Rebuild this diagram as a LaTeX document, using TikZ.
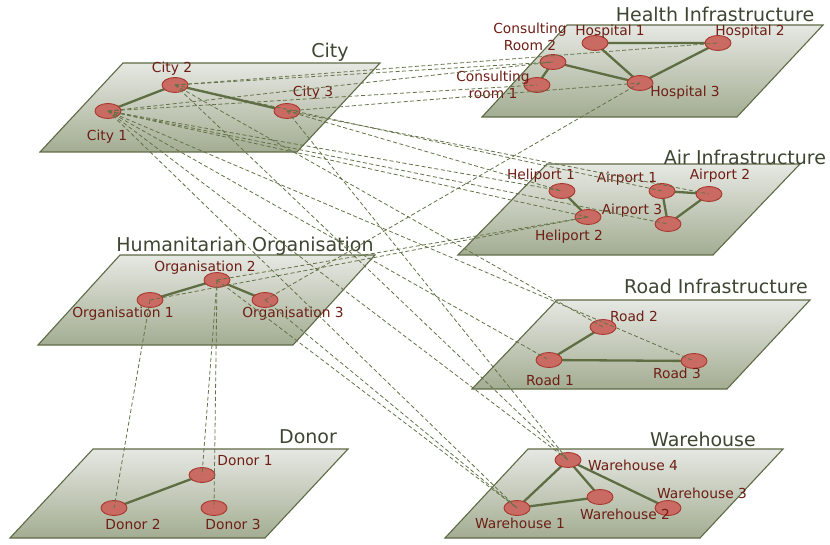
\documentclass[tikz,border=0pt]{standalone}
\usepackage{fontspec}
\setmainfont{DejaVu Sans}
\usetikzlibrary{shapes.geometric}
\definecolor{planeedge}{HTML}{5E6B45}
\definecolor{planetop}{HTML}{E6E8E3}
\definecolor{planebot}{HTML}{A3AD92}
\definecolor{nodefill}{HTML}{C96A63}
\definecolor{nodeedge}{HTML}{A8382E}
\definecolor{edgecol}{HTML}{5F6E42}
\definecolor{dashcol}{HTML}{637347}
\definecolor{labelcol}{HTML}{6E1E14}
\definecolor{titlecol}{HTML}{3E4632}
\begin{document}
\begin{tikzpicture}[x=1pt,y=-1pt,
  plane/.style={draw=planeedge,line width=1.1pt,top color=planetop,bottom color=planebot},
  vert/.style={ellipse,draw=nodeedge,line width=0.9pt,fill=nodefill,minimum width=26pt,minimum height=15pt,inner sep=0pt},
  tie/.style={draw=edgecol,line width=2.3pt},
  link/.style={draw=dashcol,line width=0.8pt,dash pattern=on 4pt off 2.5pt},
  lbl/.style={text=labelcol,font=\fontsize{13.8}{17}\selectfont,inner sep=0pt,align=center},
  ttl/.style={text=titlecol,font=\fontsize{19}{22}\selectfont,inner sep=0pt}]
\useasboundingbox (0,0) rectangle (830,545);
% planes
\shadedraw[plane] (123,63) -- (380,63) -- (297,152) -- (40,152) -- cycle;
\shadedraw[plane] (567,25) -- (823,25) -- (737,117) -- (482,117) -- cycle;
\shadedraw[plane] (547,164) -- (800,164) -- (713,255) -- (458,255) -- cycle;
\shadedraw[plane] (120,255) -- (375,255) -- (293,345) -- (38,345) -- cycle;
\shadedraw[plane] (557,300) -- (810,300) -- (727,389) -- (472,389) -- cycle;
\shadedraw[plane] (93,449) -- (348,449) -- (265,538) -- (10,538) -- cycle;
\shadedraw[plane] (528,449) -- (783,449) -- (700,538) -- (445,538) -- cycle;
% titles
\node[ttl] (tcity) at (330,52) {City};
\node[ttl] (thealth) at (715,14) {Health Infrastructure};
\node[ttl] (tair) at (745,157) {Air Infrastructure};
\node[ttl] (torg) at (245,246) {Humanitarian Organisation};
\node[ttl] (troad) at (716,286) {Road Infrastructure};
\node[ttl] (tdonor) at (308,437) {Donor};
\node[ttl] (tware) at (703,439) {Warehouse};
% node coordinates
\coordinate (pc1) at (108,111); \coordinate (pc2) at (175,85); \coordinate (pc3) at (287,111);
\coordinate (ph1) at (595,43); \coordinate (ph2) at (718,43); \coordinate (ph3) at (640,83);
\coordinate (pcr2) at (553,62); \coordinate (pcr1) at (537,85);
\coordinate (php1) at (562,191); \coordinate (php2) at (588,217);
\coordinate (pa1) at (662,191); \coordinate (pa2) at (709,194); \coordinate (pa3) at (668,224);
\coordinate (po1) at (150,300); \coordinate (po2) at (217,280); \coordinate (po3) at (265,300);
\coordinate (pr1) at (549,360); \coordinate (pr2) at (603,327); \coordinate (pr3) at (694,361);
\coordinate (pd1) at (202,475); \coordinate (pd2) at (114,508); \coordinate (pd3) at (214,508);
\coordinate (pw1) at (517,508); \coordinate (pw2) at (600,497); \coordinate (pw3) at (668,508); \coordinate (pw4) at (568,460);
% intra-layer edges
\draw[tie] (pc1) -- (pc2) -- (pc3);
\draw[tie] (ph1) -- (ph2) -- (ph3) -- (ph1);
\draw[tie] (pcr2) -- (ph3);
\draw[tie] (pcr2) -- (pcr1);
\draw[tie] (php1) -- (php2);
\draw[tie] (pa1) -- (pa2) -- (pa3) -- (pa1);
\draw[tie] (po1) -- (po2) -- (po3);
\draw[tie] (pr2) -- (pr1) -- (pr3);
\draw[tie] (pd1) -- (pd2);
\draw[tie] (pw1) -- (pw4) -- (pw2) -- (pw1);
\draw[tie] (pw4) -- (pw3);
% vertices
\foreach \n in {c1,c2,c3,h1,h2,h3,cr1,cr2,hp1,hp2,a1,a2,a3,o1,o2,o3,r1,r2,r3,d1,d2,d3,w1,w2,w3,w4}
  \node[vert] (\n) at (p\n) {};
% labels
\node[lbl] (lc2) at (172,69) {City 2};
\node[lbl] (lc1) at (107,137) {City 1};
\node[lbl] (lc3) at (313,93) {City 3};
\node[lbl] (lh1) at (610,32) {Hospital 1};
\node[lbl] (lh2) at (750,32) {Hospital 2};
\node[lbl] (lh3) at (685,93) {Hospital 3};
\node[lbl] (lcr2) at (530,37) {Consulting\\Room 2};
\node[lbl] (lcr1) at (493,85) {Consulting\\room 1};
\node[lbl] (lhp1) at (541,176) {Heliport 1};
\node[lbl] (la1) at (627,179) {Airport 1};
\node[lbl] (la2) at (720,176) {Airport 2};
\node[lbl] (la3) at (632,211) {Airport 3};
\node[lbl] (lhp2) at (569,237) {Heliport 2};
\node[lbl] (lo2) at (205,268) {Organisation 2};
\node[lbl] (lo1) at (123,314) {Organisation 1};
\node[lbl] (lo3) at (293,314) {Organisation 3};
\node[lbl] (lr2) at (634,316) {Road 2};
\node[lbl] (lr1) at (550,380) {Road 1};
\node[lbl] (lr3) at (677,373) {Road 3};
\node[lbl] (ld1) at (245,461) {Donor 1};
\node[lbl] (ld2) at (133,524) {Donor 2};
\node[lbl] (ld3) at (233,524) {Donor 3};
\node[lbl] (lw4) at (633,465) {Warehouse 4};
\node[lbl] (lw3) at (702,493) {Warehouse 3};
\node[lbl] (lw2) at (625,514) {Warehouse 2};
\node[lbl] (lw1) at (520,523) {Warehouse 1};
% inter-layer dashed links
\draw[link] (c1.center) -- (cr2.center);
\draw[link] (c1.center) -- (cr1.center);
\draw[link] (c2.center) -- (h2.center);
\draw[link] (c2.center) -- (cr2.center);
\draw[link] (c3.center) -- (h3.center);
\draw[link] (c1.center) -- (hp1.center);
\draw[link] (c1.center) -- (hp2.center);
\draw[link] (c1.center) -- (a3.center);
\draw[link] (c2.center) -- (a1.center);
\draw[link] (c3.center) -- (hp1.center);
\draw[link] (c3.center) -- (a2.center);
\draw[link] (c1.center) -- (r1.center);
\draw[link] (c1.center) -- (r3.center);
\draw[link] (c2.center) -- (r2.center);
\draw[link] (c1.center) -- (w1.center);
\draw[link] (c1.center) -- (w4.center);
\draw[link] (c2.center) -- (w4.center);
\draw[link] (c3.center) -- (w4.center);
\draw[link] (o3.center) -- (h3.center);
\draw[link] (o1.center) -- (hp2.center);
\draw[link] (o2.center) -- (hp2.center);
\draw[link] (o2.center) -- (w1.center);
\draw[link] (o3.center) -- (w1.center);
\draw[link] (o1.center) -- (d2.center);
\draw[link] (o2.center) -- (d1.center);
\draw[link] (o2.center) -- (d3.center);
\end{tikzpicture}
\end{document}
